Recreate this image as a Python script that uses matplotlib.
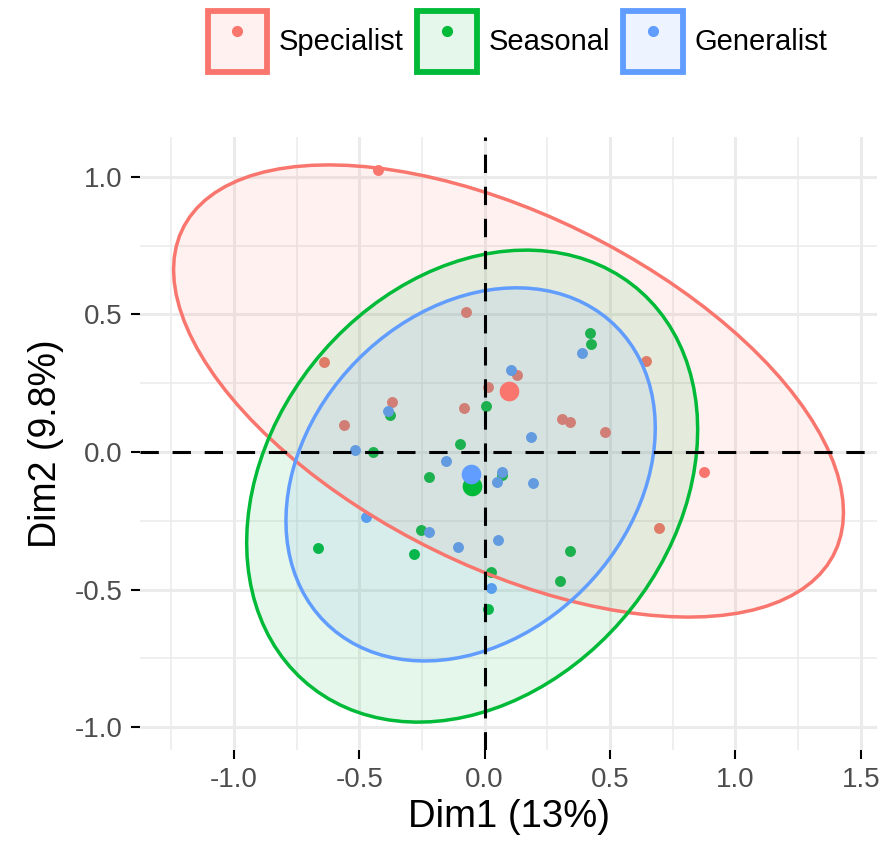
import matplotlib
matplotlib.use("Agg")
import matplotlib.pyplot as plt
from matplotlib.patches import Polygon, Rectangle
from matplotlib.lines import Line2D
from matplotlib.legend_handler import HandlerTuple
from matplotlib.ticker import MultipleLocator, FormatStrFormatter
from matplotlib.colors import to_rgba
import numpy as np

plt.rcParams['font.family'] = ['Liberation Sans', 'DejaVu Sans']
plt.rcParams['axes.unicode_minus'] = False

groups = ["Specialist", "Seasonal", "Generalist"]
colors = ["#F8766D", "#00BA38", "#619CFF"]

spec_x = [-0.426, -0.073, -0.641, 0.013, -0.368, -0.081, -0.563,
          0.643, 0.129, 0.308, 0.341, 0.481, 0.873, 0.696]
spec_y = [1.025, 0.508, 0.329, 0.237, 0.182, 0.161, 0.097,
          0.332, 0.279, 0.120, 0.110, 0.074, -0.072, -0.276]

seas_x = [-0.376, 0.005, -0.097, -0.447, 0.420, 0.424, 0.070, -0.224,
          -0.255, -0.663, -0.282, 0.340, 0.024, 0.300, 0.013]
seas_y = [0.133, 0.167, 0.031, -0.001, 0.434, 0.391, -0.083, -0.089,
          -0.285, -0.350, -0.371, -0.361, -0.435, -0.469, -0.570]

gen_x = [-0.385, -0.519, -0.153, 0.390, 0.106, 0.183, 0.070,
         0.051, 0.194, -0.473, -0.223, -0.105, 0.052, 0.027]
gen_y = [0.149, 0.007, -0.031, 0.360, 0.297, 0.056, -0.071,
         -0.109, -0.111, -0.236, -0.289, -0.344, -0.321, -0.494]

xs = [spec_x, seas_x, gen_x]
ys = [spec_y, seas_y, gen_y]
level = 0.95


def norm_ellipse(x, y, level, segments=101):
    # same construction as ggplot2 stat_ellipse(type="norm")
    pts = np.column_stack([x, y])
    center = pts.mean(axis=0)
    cov = np.cov(pts, rowvar=False)
    d = len(x) - 1
    fq = d / 2 * ((1 - level) ** (-2 / d) - 1)  # qf(level, 2, d)
    radius = np.sqrt(2 * fq)
    t = np.linspace(0, 2 * np.pi, segments)
    circle = np.vstack([np.cos(t), np.sin(t)])
    L = np.linalg.cholesky(cov)
    return center + radius * (L @ circle).T


fig = plt.figure(figsize=(8.83, 8.49), dpi=100)
ax = fig.add_axes([0.1586, 0.1166, 0.8346, 0.722])

for i in range(3):
    ax.scatter(xs[i], ys[i], s=62, color=colors[i], linewidths=0, zorder=3)

for i in range(3):
    ell = norm_ellipse(xs[i], ys[i], level)
    ax.add_patch(Polygon(ell, closed=True, facecolor=to_rgba(colors[i], 0.1),
                         edgecolor='none', zorder=4))
    ax.add_patch(Polygon(ell, closed=True, facecolor='none',
                         edgecolor=colors[i], linewidth=2.5, zorder=5))

for i in range(3):
    ax.scatter([np.mean(xs[i])], [np.mean(ys[i])], s=200, color=colors[i],
               linewidths=0, zorder=7)

ax.axhline(0, color='black', linewidth=2.2, dashes=(6, 4.5), zorder=6)
ax.axvline(0, color='black', linewidth=2.2, dashes=(6, 4.5), zorder=6)

ax.margins(0.05)
ax.autoscale_view()

ax.xaxis.set_major_locator(MultipleLocator(0.5))
ax.yaxis.set_major_locator(MultipleLocator(0.5))
ax.xaxis.set_minor_locator(MultipleLocator(0.25))
ax.yaxis.set_minor_locator(MultipleLocator(0.25))
ax.xaxis.set_major_formatter(FormatStrFormatter('%.1f'))
ax.yaxis.set_major_formatter(FormatStrFormatter('%.1f'))
ax.grid(which='major', color='#EBEBEB', linewidth=2.2, zorder=0)
ax.grid(which='minor', color='#EBEBEB', linewidth=1.1, zorder=0)
ax.set_axisbelow(True)
for sp in ax.spines.values():
    sp.set_visible(False)
ax.tick_params(which='major', length=6.5, width=1.5, color='black',
               labelsize=20, labelcolor='#4D4D4D', pad=6)
ax.tick_params(which='minor', length=0)

ax.set_xlabel("Dim1 (13%)", fontsize=27.5, labelpad=4)
ax.set_ylabel("Dim2 (9.8%)", fontsize=27, labelpad=8)

handles = []
for c in colors:
    box = Rectangle((0, 0), 1, 1, facecolor=to_rgba(c, 0.1), edgecolor=c,
                    linewidth=4.2)
    dot = Line2D([], [], marker='o', linestyle='none', color=c, markersize=7)
    handles.append((box, dot))
fig.legend(handles, groups, loc='center', bbox_to_anchor=(0.586, 0.951),
           ncol=3, frameon=False, fontsize=21, handlelength=2.05,
           handleheight=2.8, handletextpad=0.4, columnspacing=0.45,
           handler_map={tuple: HandlerTuple(ndivide=1)})

fig.savefig("out.png", dpi=100)
